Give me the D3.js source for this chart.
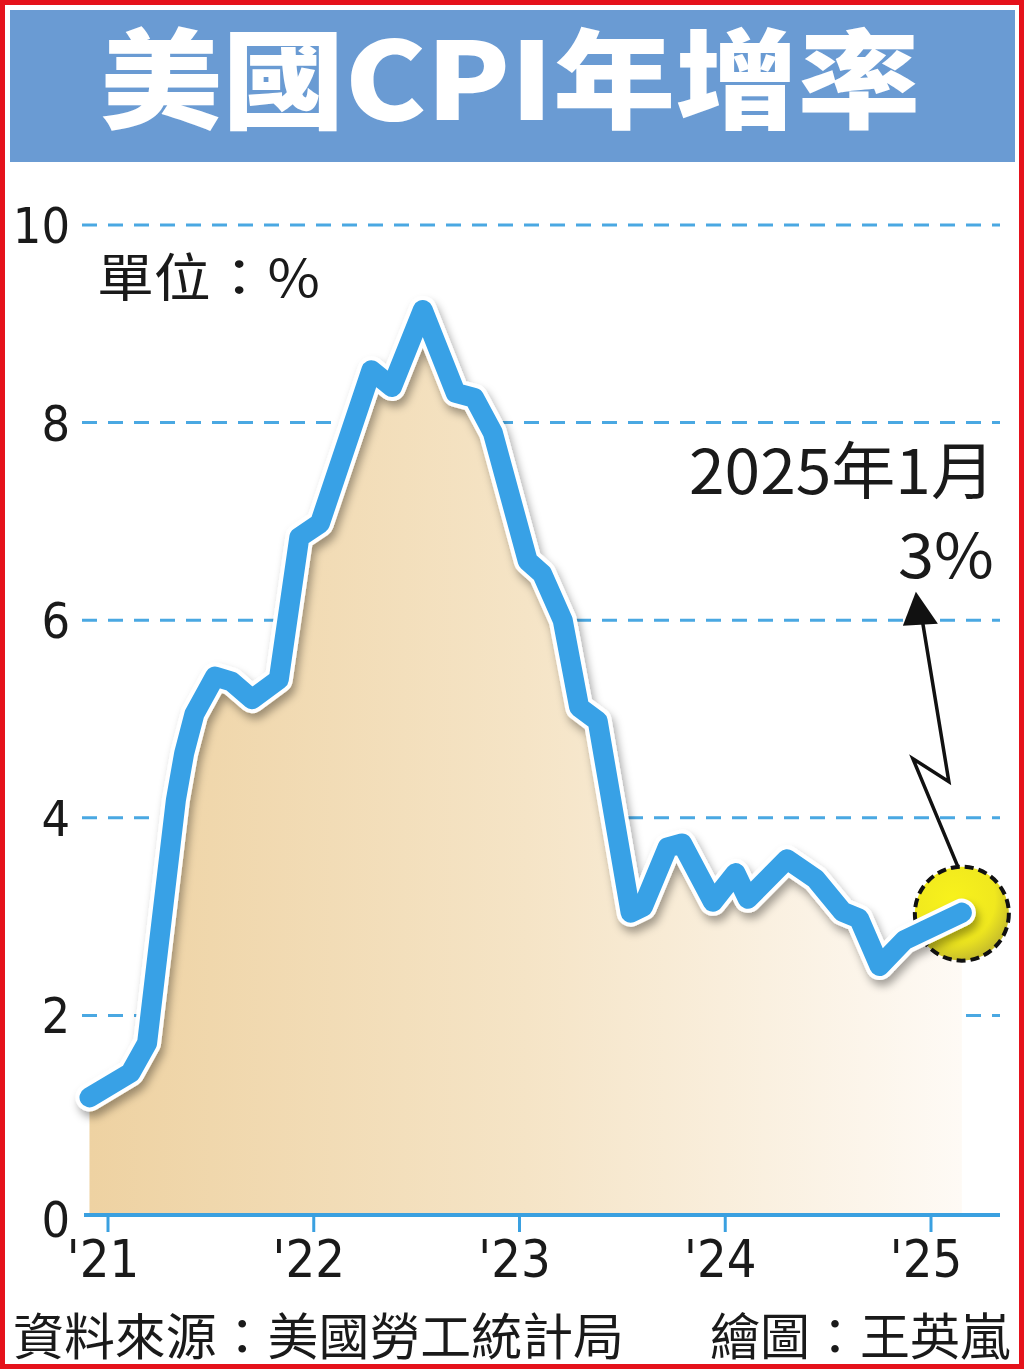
<!DOCTYPE html>
<html>
<head>
<meta charset="utf-8">
<script src="https://cdn.jsdelivr.net/npm/d3@7"></script>
<style>
  html, body { margin: 0; padding: 0; background: #fff; }
  svg { display: block; }
</style>
</head>
<body>
<div id="chart"></div>
<script>
// decimal-year positions of the drawn line's vertices
const times = [2020.91, 2021.11, 2021.19, 2021.33, 2021.37, 2021.42, 2021.52, 2021.60, 2021.70, 2021.83,
  2021.93, 2022.03, 2022.28, 2022.38, 2022.53, 2022.69, 2022.78, 2022.87, 2023.04, 2023.11,
  2023.21, 2023.29, 2023.38, 2023.54, 2023.60, 2023.72, 2023.79, 2023.94, 2024.05, 2024.11,
  2024.30, 2024.44, 2024.57, 2024.65, 2024.75, 2024.87, 2025.15]
const values = [1.17, 1.42, 1.72, 4.18, 4.65, 5.05, 5.43, 5.38, 5.2, 5.4,
  6.84, 6.98, 8.53, 8.36, 9.14, 8.3, 8.25, 7.9, 6.6, 6.47,
  6.0, 5.12, 4.98, 3.04, 3.1, 3.7, 3.74, 3.15, 3.44, 3.18,
  3.58, 3.38, 3.05, 2.98, 2.5, 2.76, 3.04]
const yTicks = [0, 2, 4, 6, 8, 10]
const yearTicks = [2021, 2022, 2023, 2024, 2025]
const yearLabels = ["'21", "'22", "'23", "'24", "'25"]

const W = 1024, H = 1369
const cjk = '"Noto Sans CJK TC", "Noto Sans CJK SC", sans-serif'
const narrow = '"Liberation Sans Narrow", "DejaVu Sans Condensed", "Noto Sans CJK TC", sans-serif'

const svg = d3.select('#chart').append('svg')
  .attr('width', W).attr('height', H)

const defs = svg.append('defs')
const grad = defs.append('linearGradient').attr('id', 'areaGrad')
  .attr('x1', 0).attr('x2', 1).attr('y1', 0).attr('y2', 0)
grad.append('stop').attr('offset', '0%').attr('stop-color', '#eed2a2')
grad.append('stop').attr('offset', '50%').attr('stop-color', '#f5e4c6')
grad.append('stop').attr('offset', '100%').attr('stop-color', '#fefaf5')

const dotGrad = defs.append('radialGradient').attr('id', 'dotGrad')
  .attr('cx', '40%').attr('cy', '35%').attr('r', '65%')
dotGrad.append('stop').attr('offset', '0%').attr('stop-color', '#f8f21c')
dotGrad.append('stop').attr('offset', '70%').attr('stop-color', '#f0e81e')
dotGrad.append('stop').attr('offset', '100%').attr('stop-color', '#c8bf2a')

const shadow = defs.append('filter').attr('id', 'shadow')
  .attr('x', '-10%').attr('y', '-10%').attr('width', '120%').attr('height', '120%')
shadow.append('feDropShadow')
  .attr('dx', 3).attr('dy', 6).attr('stdDeviation', 4)
  .attr('flood-color', '#000').attr('flood-opacity', 0.35)

svg.append('rect').attr('width', W).attr('height', H).attr('fill', '#fff')

// title bar
svg.append('rect')
  .attr('x', 10).attr('y', 10).attr('width', 1005).attr('height', 152)
  .attr('fill', '#6a9bd3')
svg.append('text')
  .attr('x', 100).attr('y', 120)
  .attr('textLength', 820).attr('lengthAdjust', 'spacingAndGlyphs')
  .style('font-family', cjk).style('font-weight', 900).style('font-size', '108px')
  .attr('fill', '#fff')
  .text('美國CPI年增率')

const x = d3.scaleLinear().domain([2021, 2025]).range([108, 931])
const y = d3.scaleLinear().domain([0, 10]).range([1213, 225])
const data = times.map((t, i) => ({ t: t, v: values[i] }))

// dashed gridlines
svg.append('g')
  .selectAll('line')
  .data(yTicks.filter(d => d > 0))
  .enter()
  .append('line')
  .attr('x1', 82).attr('x2', 1000)
  .attr('y1', d => y(d)).attr('y2', d => y(d))
  .attr('stroke', '#4aa8e2')
  .attr('stroke-width', 3)
  .attr('stroke-dasharray', '15,11')

// y labels
svg.append('g')
  .selectAll('text')
  .data(yTicks)
  .enter()
  .append('text')
  .attr('x', 70)
  .attr('y', d => d === 0 ? y(d) + 6 : y(d))
  .attr('dy', '0.36em')
  .attr('text-anchor', 'end')
  .style('font-family', narrow).style('font-size', '50px')
  .attr('fill', '#1a1a1a')
  .text(d => d)

svg.append('text')
  .attr('x', 97).attr('y', 297)
  .attr('textLength', 223).attr('lengthAdjust', 'spacingAndGlyphs')
  .style('font-family', cjk).style('font-size', '52px')
  .attr('fill', '#1a1a1a')
  .text('單位：%')

// area
const area = d3.area()
  .x(d => x(d.t))
  .y0(y(0))
  .y1(d => y(d.v))
svg.append('path')
  .datum(data)
  .attr('d', area)
  .attr('fill', 'url(#areaGrad)')

// x axis
svg.append('line')
  .attr('x1', 84).attr('x2', 1000)
  .attr('y1', y(0) + 2).attr('y2', y(0) + 2)
  .attr('stroke', '#3aa0e0').attr('stroke-width', 4)
svg.append('g')
  .selectAll('line')
  .data(yearTicks)
  .enter()
  .append('line')
  .attr('x1', d => x(d)).attr('x2', d => x(d))
  .attr('y1', y(0) + 2).attr('y2', y(0) + 19)
  .attr('stroke', '#3aa0e0').attr('stroke-width', 3)
svg.append('g')
  .selectAll('text')
  .data(yearTicks)
  .enter()
  .append('text')
  .attr('x', d => x(d) - 5)
  .attr('y', 1277)
  .attr('text-anchor', 'middle')
  .style('font-family', narrow).style('font-size', '52px')
  .attr('fill', '#1a1a1a')
  .text((d, i) => yearLabels[i])

// highlight dot on the last point
const last = data[data.length - 1]
const cx = x(last.t), cy = y(last.v) + 1
svg.append('circle')
  .attr('cx', cx).attr('cy', cy).attr('r', 47)
  .attr('fill', 'url(#dotGrad)')
  .attr('stroke', '#111').attr('stroke-width', 4)
  .attr('stroke-dasharray', '9,5')

// line with white rim and shadow
const line = d3.line()
  .x(d => x(d.t))
  .y(d => y(d.v))
const lg = svg.append('g').attr('filter', 'url(#shadow)')
lg.append('path')
  .datum(data)
  .attr('d', line)
  .attr('fill', 'none')
  .attr('stroke', '#fff')
  .attr('stroke-width', 28)
  .attr('stroke-linejoin', 'round')
  .attr('stroke-linecap', 'round')
lg.append('path')
  .datum(data)
  .attr('d', line)
  .attr('fill', 'none')
  .attr('stroke', '#37a1e6')
  .attr('stroke-width', 20)
  .attr('stroke-linejoin', 'round')
  .attr('stroke-linecap', 'round')

// zigzag arrow up to the label
const zig = [[cx - 4, cy - 47], [cx - 49, cy - 155], [cx - 13, cy - 132], [cx - 39, cy - 290]]
svg.append('path')
  .attr('d', d3.line()(zig))
  .attr('fill', 'none')
  .attr('stroke', '#111').attr('stroke-width', 3.5)
  .attr('stroke-linejoin', 'miter')
svg.append('path')
  .attr('d', `M${cx - 46},${cy - 322} L${cx - 59},${cy - 288} L${cx - 24},${cy - 290} Z`)
  .attr('fill', '#111')

svg.append('text')
  .attr('x', 995).attr('y', 494)
  .attr('text-anchor', 'end')
  .attr('textLength', 306).attr('lengthAdjust', 'spacingAndGlyphs')
  .style('font-family', cjk).style('font-size', '62px')
  .attr('fill', '#1a1a1a')
  .text('2025年1月')
svg.append('text')
  .attr('x', 994).attr('y', 578)
  .attr('text-anchor', 'end')
  .attr('textLength', 96).attr('lengthAdjust', 'spacingAndGlyphs')
  .style('font-family', cjk).style('font-size', '62px')
  .attr('fill', '#1a1a1a')
  .text('3%')

// footer
svg.append('text')
  .attr('x', 13).attr('y', 1355)
  .attr('textLength', 611).attr('lengthAdjust', 'spacingAndGlyphs')
  .style('font-family', cjk).style('font-size', '50px')
  .attr('fill', '#1a1a1a')
  .text('資料來源：美國勞工統計局')
svg.append('text')
  .attr('x', 1010).attr('y', 1355)
  .attr('text-anchor', 'end')
  .attr('textLength', 300).attr('lengthAdjust', 'spacingAndGlyphs')
  .style('font-family', cjk).style('font-size', '50px')
  .attr('fill', '#1a1a1a')
  .text('繪圖：王英嵐')

svg.append('rect')
  .attr('x', 2.5).attr('y', 2.5).attr('width', W - 5).attr('height', H - 5)
  .attr('fill', 'none')
  .attr('stroke', '#e5121b').attr('stroke-width', 5)
</script>
</body>
</html>
